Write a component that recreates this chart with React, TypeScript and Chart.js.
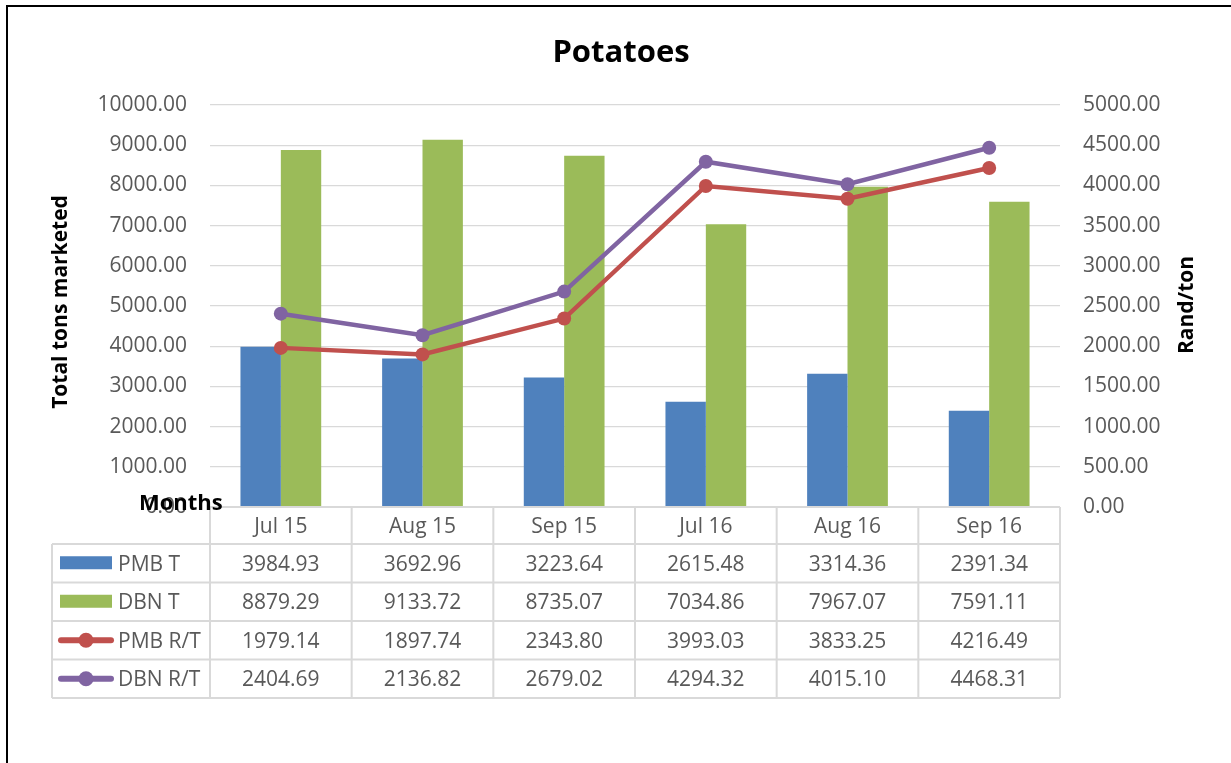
import { useEffect, useRef } from "react";
import { Chart, registerables } from "chart.js";

Chart.register(...registerables);

const categories = ["Jul 15", "Aug 15", "Sep 15", "Jul 16", "Aug 16", "Sep 16"];
const pmbTons = [3984.93, 3692.96, 3223.64, 2615.48, 3314.36, 2391.34];
const dbnTons = [8879.29, 9133.72, 8735.07, 7034.86, 7967.07, 7591.11];
const pmbRandPerTon = [1979.14, 1897.74, 2343.8, 3993.03, 3833.25, 4216.49];
const dbnRandPerTon = [2404.69, 2136.82, 2679.02, 4294.32, 4015.1, 4468.31];
const seriesLabels = ["PMB T", "DBN T", "PMB R/T", "DBN R/T"];
const chartTitle = "Potatoes";
const leftAxisTitle = "Total tons marketed";
const rightAxisTitle = "Rand/ton";
const xAxisTitle = "Months";

const FONT_FAMILY = "'Open Sans', 'DejaVu Sans', sans-serif";
const TEXT_GRAY = "#595959";
const GRID = "#d9d9d9";

const tablePlugin = {
  id: "excelDataTable",
  afterDraw(chart: any) {
    const ctx = chart.ctx as CanvasRenderingContext2D;
    const area = chart.chartArea;
    const xs = chart.scales.x;
    const n = chart.data.labels.length;
    const catW = (area.right - area.left) / n;
    const headerH = 37;
    const rowH = 38.5;
    const tableLeft = 52;
    const top = area.bottom;
    const rowsTop = top + headerH;
    const datasets = chart.data.datasets;
    const bottom = rowsTop + rowH * datasets.length;

    ctx.save();

    // frame border (top and left)
    ctx.fillStyle = "#000";
    ctx.fillRect(6, 5, 1225, 2);
    ctx.fillRect(6, 5, 2, 758);

    // table lines
    ctx.strokeStyle = GRID;
    ctx.lineWidth = 2;
    ctx.beginPath();
    ctx.moveTo(area.left, top);
    ctx.lineTo(area.right, top);
    for (let r = 0; r <= datasets.length; r++) {
      const y = rowsTop + rowH * r;
      ctx.moveTo(tableLeft, y);
      ctx.lineTo(area.right, y);
    }
    for (let i = 0; i <= n; i++) {
      const x = area.left + catW * i;
      ctx.moveTo(x, top);
      ctx.lineTo(x, bottom);
    }
    ctx.moveTo(tableLeft, rowsTop);
    ctx.lineTo(tableLeft, bottom);
    ctx.stroke();

    // header labels
    ctx.font = `21px ${FONT_FAMILY}`;
    ctx.fillStyle = TEXT_GRAY;
    ctx.textAlign = "center";
    ctx.textBaseline = "alphabetic";
    chart.data.labels.forEach((lab: string, i: number) => {
      ctx.fillText(lab, xs.getPixelForValue(i), top + headerH / 2 + 7.5);
    });

    // rows
    datasets.forEach((ds: any, r: number) => {
      const cy = rowsTop + rowH * (r + 0.5);
      ctx.font = `21px ${FONT_FAMILY}`;
      ctx.fillStyle = TEXT_GRAY;
      ctx.textAlign = "center";
      ds.data.forEach((v: number, i: number) => {
        ctx.fillText(v.toFixed(2), xs.getPixelForValue(i), cy + 7.5);
      });
      // legend key
      if (ds.type === "line") {
        ctx.strokeStyle = ds.borderColor;
        ctx.lineWidth = 6;
        ctx.lineCap = "round";
        ctx.beginPath();
        ctx.moveTo(61, cy);
        ctx.lineTo(111, cy);
        ctx.stroke();
        ctx.fillStyle = ds.borderColor;
        ctx.beginPath();
        ctx.arc(86, cy, 7.5, 0, Math.PI * 2);
        ctx.fill();
      } else {
        ctx.fillStyle = ds.backgroundColor;
        ctx.fillRect(60, cy - 7, 52, 13);
      }
      ctx.fillStyle = TEXT_GRAY;
      ctx.textAlign = "left";
      ctx.font = `21px ${FONT_FAMILY}`;
      ctx.fillText(ds.label, 118, cy + 7.5);
    });

    // chart title
    ctx.fillStyle = "#000";
    ctx.textAlign = "center";
    ctx.font = `bold 31px ${FONT_FAMILY}`;
    ctx.fillText(chartTitle, 621, 62);

    // axis titles
    ctx.font = `bold 21px ${FONT_FAMILY}`;
    ctx.textBaseline = "middle";
    ctx.save();
    ctx.translate(61, 302);
    ctx.rotate(-Math.PI / 2);
    ctx.fillText(leftAxisTitle, 0, 0);
    ctx.restore();
    ctx.save();
    ctx.translate(1187, 305);
    ctx.rotate(-Math.PI / 2);
    ctx.fillText(rightAxisTitle, 0, 0);
    ctx.restore();

    // x axis title
    ctx.textBaseline = "alphabetic";
    ctx.textAlign = "left";
    ctx.font = `bold 22px ${FONT_FAMILY}`;
    ctx.fillText(xAxisTitle, 139, 510);

    ctx.restore();
  },
};

export default function App() {
  const ref = useRef<HTMLCanvasElement | null>(null);

  useEffect(() => {
    if (!ref.current) return;
    const chart = new Chart(ref.current, {
      type: "bar",
      data: {
        labels: categories,
        datasets: [
          {
            type: "bar",
            label: seriesLabels[0],
            data: pmbTons,
            backgroundColor: "#4f81bd",
            yAxisID: "y",
            order: 2,
            barPercentage: 1,
            categoryPercentage: 0.57,
          },
          {
            type: "bar",
            label: seriesLabels[1],
            data: dbnTons,
            backgroundColor: "#9bbb59",
            yAxisID: "y",
            order: 2,
            barPercentage: 1,
            categoryPercentage: 0.57,
          },
          {
            type: "line",
            label: seriesLabels[2],
            data: pmbRandPerTon,
            borderColor: "#c0504d",
            backgroundColor: "#c0504d",
            borderWidth: 4.5,
            pointRadius: 7,
            pointBorderWidth: 0,
            pointBackgroundColor: "#c0504d",
            tension: 0,
            yAxisID: "y1",
            order: 1,
          },
          {
            type: "line",
            label: seriesLabels[3],
            data: dbnRandPerTon,
            borderColor: "#8064a2",
            backgroundColor: "#8064a2",
            borderWidth: 4.5,
            pointRadius: 7,
            pointBorderWidth: 0,
            pointBackgroundColor: "#8064a2",
            tension: 0,
            yAxisID: "y1",
            order: 0,
          },
        ] as any,
      },
      options: {
        responsive: false,
        animation: false,
        devicePixelRatio: 1,
        layout: { padding: { left: 0, right: 0, top: 105, bottom: 256 } },
        plugins: {
          legend: { display: false },
          title: { display: false },
          tooltip: { enabled: false },
        },
        scales: {
          x: {
            display: false,
          },
          y: {
            position: "left",
            min: 0,
            max: 10000,
            afterFit: (s: any) => {
              s.width = 210;
            },
            ticks: {
              stepSize: 1000,
              padding: 23,
              color: TEXT_GRAY,
              font: { family: FONT_FAMILY, size: 21 },
              callback: (v: any) => Number(v).toFixed(2),
            },
            grid: { color: GRID, lineWidth: 1.3, drawTicks: false },
            border: { display: false },
          },
          y1: {
            position: "right",
            min: 0,
            max: 5000,
            afterFit: (s: any) => {
              s.width = 171;
            },
            ticks: {
              stepSize: 500,
              padding: 23,
              color: TEXT_GRAY,
              font: { family: FONT_FAMILY, size: 21 },
              callback: (v: any) => Number(v).toFixed(2),
            },
            grid: { drawOnChartArea: false, drawTicks: false },
            border: { display: false },
          },
        },
      } as any,
      plugins: [tablePlugin],
    });
    return () => chart.destroy();
  }, []);

  return (
    <div style={{ position: "absolute", left: 0, top: 0, width: 1231, height: 763, background: "#fff" }}>
      <canvas ref={ref} width={1231} height={763} style={{ display: "block" }} />
    </div>
  );
}
